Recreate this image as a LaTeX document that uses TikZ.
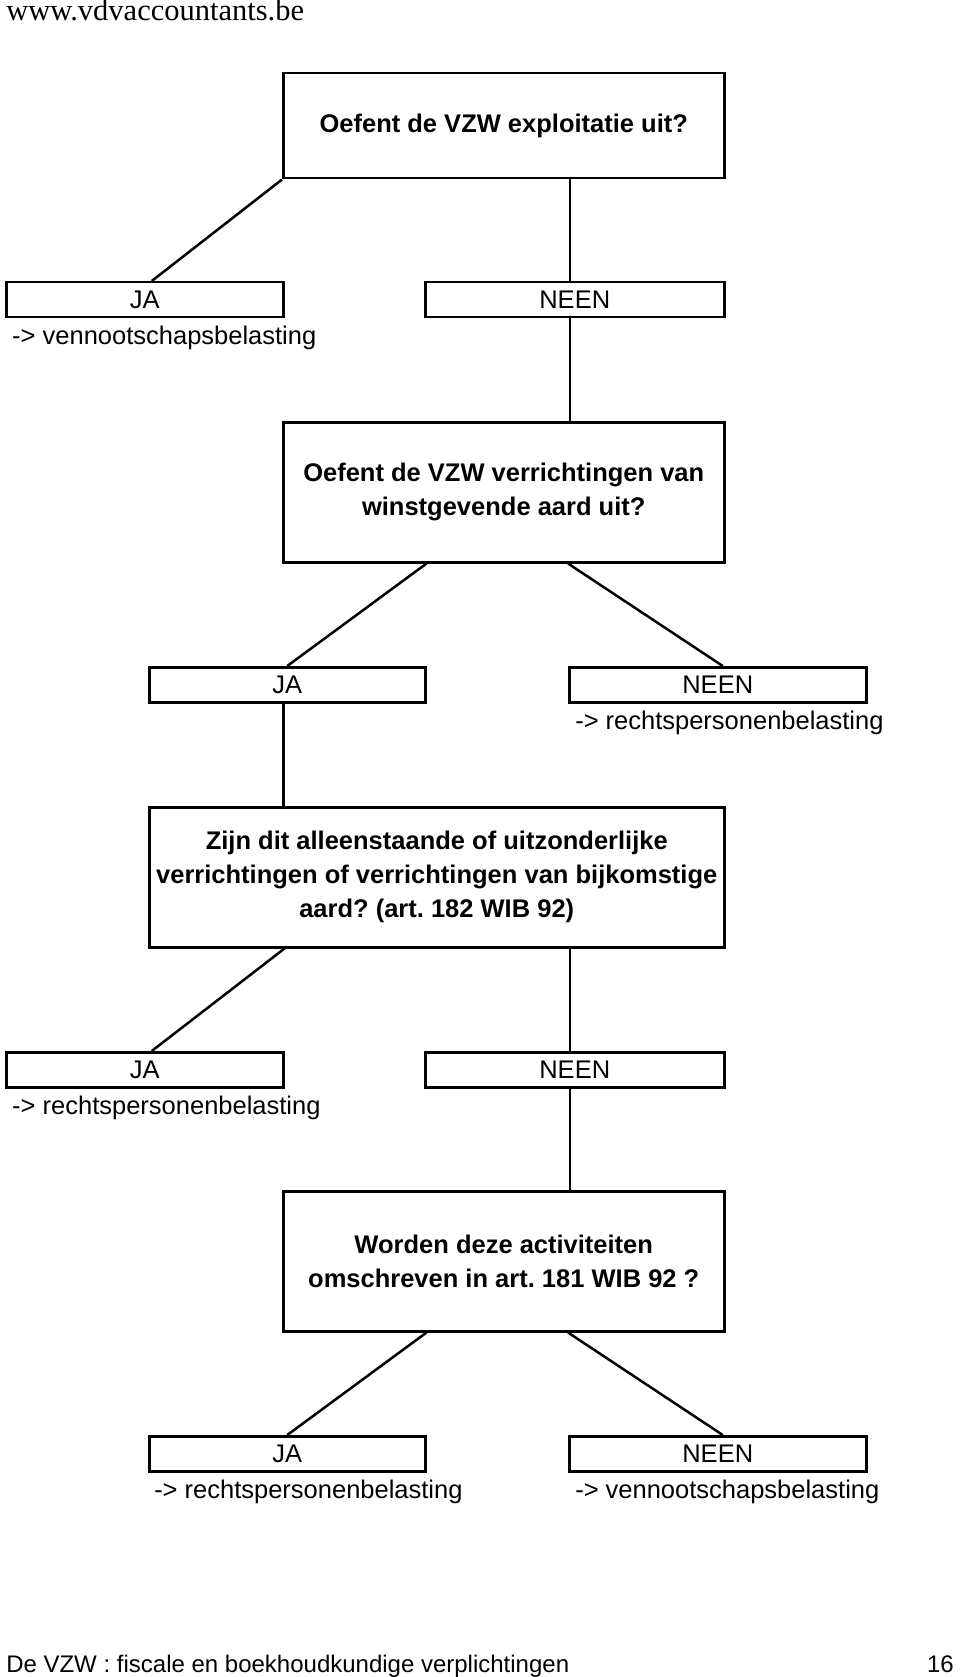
\documentclass[tikz,border=0pt]{standalone}
\usepackage{fontspec}
\setmainfont{Liberation Sans}
\newfontfamily\headfont{Liberation Serif}
\usetikzlibrary{positioning}
\frenchspacing

\begin{document}
\begin{tikzpicture}[x=1pt,y=-1pt,line width=2.5pt]
\tikzstyle{question} = [rectangle, draw, anchor=north west, inner sep=0pt, align=center, font=\fontsize{25.5}{34}\selectfont\bfseries]
\tikzstyle{answer} = [rectangle, draw, anchor=north west, inner sep=0pt, minimum height=35pt, font=\fontsize{25.5}{30}\selectfont]
\tikzstyle{result} = [anchor=base west, inner sep=0pt, font=\fontsize{25.5}{30}\selectfont]
\useasboundingbox (0,0) rectangle (960,1677);
\node[anchor=base west, inner sep=0pt, font=\headfont\fontsize{30.5}{32}\selectfont] (site) at (5,21) {www.vdvaccountants.be};
% first question
\node[question, minimum width=441pt, minimum height=105pt] (q1) at (282,72) {Oefent de VZW exploitatie uit?};
\node[answer, minimum width=277pt] (ja1) at (5,281) {JA};
\node[answer, minimum width=299pt] (neen1) at (424,281) {NEEN};
\node[result] (r1) at ([xshift=6pt,yshift=-26pt]ja1.south west) {-> vennootschapsbelasting};
% second question
\node[question, minimum width=441pt, minimum height=140pt] (q2) at (282,421) {Oefent de VZW verrichtingen van\\winstgevende aard uit?};
\node[answer, minimum width=276pt] (ja2) at (148,666) {JA};
\node[answer, minimum width=297pt] (neen2) at (568,666) {NEEN};
\node[result] (r2) at ([xshift=6pt,yshift=-26pt]neen2.south west) {-> rechtspersonenbelasting};
% third question
\node[question, minimum width=575pt, minimum height=140pt] (q3) at (148,806) {Zijn dit alleenstaande of uitzonderlijke\\verrichtingen of verrichtingen van bijkomstige\\aard? (art. 182 WIB 92)};
\node[answer, minimum width=277pt] (ja3) at (5,1051) {JA};
\node[answer, minimum width=299pt] (neen3) at (424,1051) {NEEN};
\node[result] (r3) at ([xshift=6pt,yshift=-26pt]ja3.south west) {-> rechtspersonenbelasting};
% fourth question
\node[question, minimum width=441pt, minimum height=140pt] (q4) at (282,1190) {Worden deze activiteiten\\omschreven in art. 181 WIB 92 ?};
\node[answer, minimum width=276pt] (ja4) at (148,1435) {JA};
\node[answer, minimum width=297pt] (neen4) at (568,1435) {NEEN};
\node[result] (r4) at ([xshift=5pt,yshift=-26pt]ja4.south west) {-> rechtspersonenbelasting};
\node[result] (r5) at ([xshift=6pt,yshift=-26pt]neen4.south west) {-> vennootschapsbelasting};
% footer
\node[anchor=base west, inner sep=0pt, font=\fontsize{24}{28}\selectfont] (foot) at (5,1672) {De VZW : fiscale en boekhoudkundige verplichtingen};
\node[anchor=base east, inner sep=0pt, font=\fontsize{24}{28}\selectfont] (page) at (955,1672) {16};
% branches
\draw (q1.south west) -- ([xshift=7pt]ja1.north);
\draw ([xshift=-5pt]neen1.north |- q1.south) -- ([xshift=-5pt]neen1.north);
\draw ([xshift=-5pt]neen1.south) -- ([xshift=-5pt]neen1.south |- q2.north);
\draw (q2.south -| ja2.east) -- (ja2.north);
\draw (q2.south -| neen2.west) -- ([xshift=5pt]neen2.north);
\draw ([xshift=-4pt]ja2.south) -- ([xshift=-4pt]ja2.south |- q3.north);
\draw (q3.south -| ja3.east) -- ([xshift=7pt]ja3.north);
\draw ([xshift=-5pt]neen3.north |- q3.south) -- ([xshift=-5pt]neen3.north);
\draw ([xshift=-5pt]neen3.south) -- ([xshift=-5pt]neen3.south |- q4.north);
\draw (q4.south -| ja4.east) -- (ja4.north);
\draw (q4.south -| neen4.west) -- ([xshift=5pt]neen4.north);
\end{tikzpicture}
\end{document}
